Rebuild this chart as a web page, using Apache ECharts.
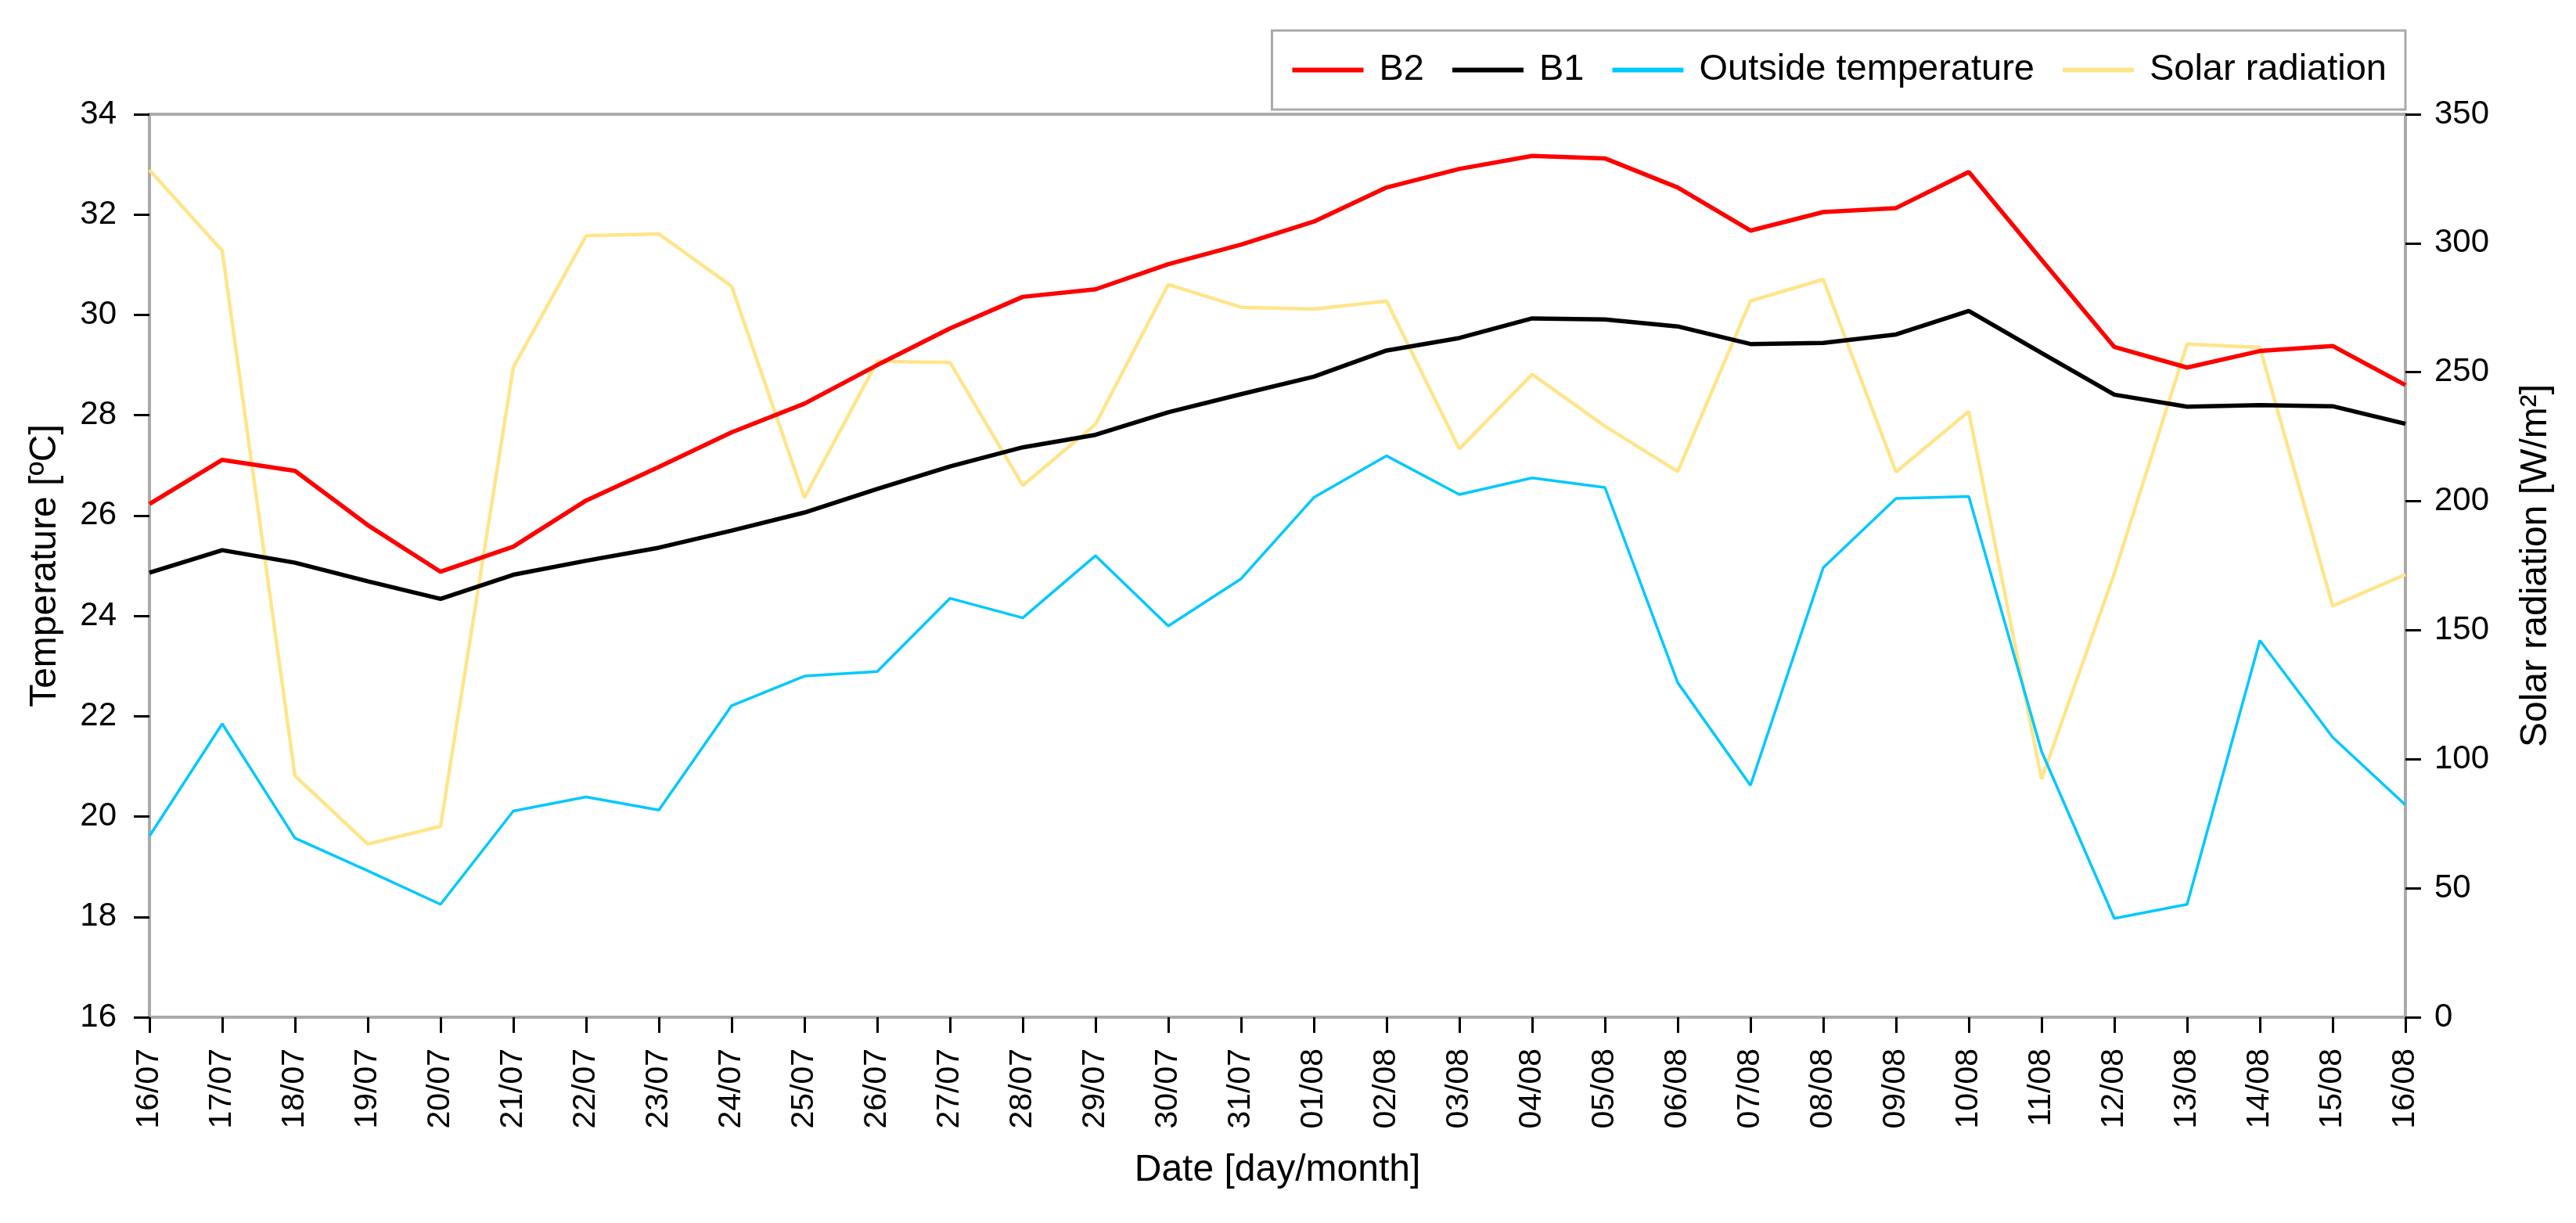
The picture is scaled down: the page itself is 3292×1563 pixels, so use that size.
<!DOCTYPE html>
<html>
<head>
<meta charset="utf-8">
<script src="https://cdn.jsdelivr.net/npm/echarts@6/dist/echarts.min.js"></script>
<style>
html,body{margin:0;padding:0;background:#fff;}
#chart{width:3292px;height:1563px;}
</style>
</head>
<body>
<div id="chart"></div>
<script>
const categories = ['16/07','17/07','18/07','19/07','20/07','21/07','22/07','23/07','24/07','25/07','26/07','27/07','28/07','29/07','30/07','31/07','01/08','02/08','03/08','04/08','05/08','06/08','07/08','08/08','09/08','10/08','11/08','12/08','13/08','14/08','15/08','16/08'];
const b2 = [26.23,27.11,26.89,25.81,24.88,25.38,26.30,26.97,27.66,28.23,29.00,29.73,30.36,30.51,31.01,31.40,31.86,32.54,32.91,33.17,33.12,32.54,31.68,32.05,32.13,32.85,31.10,29.36,28.95,29.28,29.38,28.60];
const b1 = [24.86,25.31,25.06,24.69,24.34,24.82,25.10,25.36,25.70,26.06,26.53,26.98,27.36,27.61,28.06,28.42,28.77,29.29,29.54,29.93,29.91,29.77,29.42,29.44,29.61,30.08,29.24,28.41,28.17,28.20,28.18,27.83];
const outside = [19.61,21.85,19.57,18.92,18.25,20.11,20.39,20.13,22.21,22.80,22.89,24.35,23.96,25.20,23.80,24.74,26.36,27.19,26.42,26.75,26.56,22.67,20.62,24.96,26.34,26.38,21.30,17.97,18.25,23.51,21.58,20.23];
const solar = [328.4,297.1,93.5,67.1,74.0,251.9,302.9,303.6,283.3,201.4,254.2,253.8,206.1,229.8,284.0,275.2,274.5,277.6,220.3,249.2,229.1,211.5,277.6,286.0,211.3,234.8,92.3,172.0,260.9,259.6,159.4,171.6];

const FONT = '"Liberation Sans", Arial, sans-serif';
const chart = echarts.init(document.getElementById('chart'), null, {renderer:'canvas', devicePixelRatio:1});
const axisLine = {show:true, lineStyle:{color:'#aaaaaa', width:4}};
const axisTick = {show:true, length:20, lineStyle:{color:'#000', width:3}};
chart.setOption({
  backgroundColor:'#fff',
  animation:false,
  textStyle:{fontFamily:FONT, color:'#000'},
  grid:{left:191, right:218, top:146, bottom:263, show:true, borderColor:'#aaaaaa', borderWidth:4, containLabel:false},
  legend:{
    right:218, top:39,
    padding:[27,24,27,26],
    borderColor:'#aaaaaa', borderWidth:3,
    icon:'rect',
    itemGap:36, itemWidth:91, itemHeight:6,
    textStyle:{fontSize:47, fontFamily:FONT, color:'#000', padding:[0,0,0,15]},
    data:['B2','B1','Outside temperature','Solar radiation']
  },
  xAxis:{
    type:'category', data:categories, boundaryGap:false,
    axisLine:axisLine, axisTick:axisTick,
    axisLabel:{rotate:90, fontSize:41, color:'#000', margin:40, interval:0, fontFamily:FONT},
    splitLine:{show:false},
    name:'Date [day/month]', nameLocation:'middle', nameGap:172,
    nameTextStyle:{fontSize:48, color:'#000', fontFamily:FONT}
  },
  yAxis:[
    {type:'value', min:16, max:34, interval:2, position:'left',
     axisLine:axisLine, axisTick:axisTick,
     axisLabel:{fontSize:42, color:'#000', margin:42, fontFamily:FONT},
     splitLine:{show:false},
     name:'Temperature [ºC]', nameLocation:'middle', nameGap:109,
     nameTextStyle:{fontSize:48, color:'#000', fontFamily:FONT}},
    {type:'value', min:0, max:350, interval:50, position:'right',
     axisLine:axisLine, axisTick:axisTick,
     axisLabel:{fontSize:42, color:'#000', margin:37, fontFamily:FONT},
     splitLine:{show:false},
     name:'Solar radiation [W/m²]', nameLocation:'middle', nameGap:143,
     nameTextStyle:{fontSize:48, color:'#000', fontFamily:FONT}}
  ],
  series:[
    {name:'Solar radiation', type:'line', yAxisIndex:1, data:solar, symbol:'none', lineStyle:{color:'#ffe58a', width:4.5}, itemStyle:{color:'#ffe58a'}, z:1},
    {name:'Outside temperature', type:'line', yAxisIndex:0, data:outside, symbol:'none', lineStyle:{color:'#00c8ff', width:3.5}, itemStyle:{color:'#00c8ff'}, z:2},
    {name:'B1', type:'line', yAxisIndex:0, data:b1, symbol:'none', lineStyle:{color:'#000000', width:5.5}, itemStyle:{color:'#000000'}, z:3},
    {name:'B2', type:'line', yAxisIndex:0, data:b2, symbol:'none', lineStyle:{color:'#ff0000', width:5.5}, itemStyle:{color:'#ff0000'}, z:4}
  ]
});
</script>
</body>
</html>
